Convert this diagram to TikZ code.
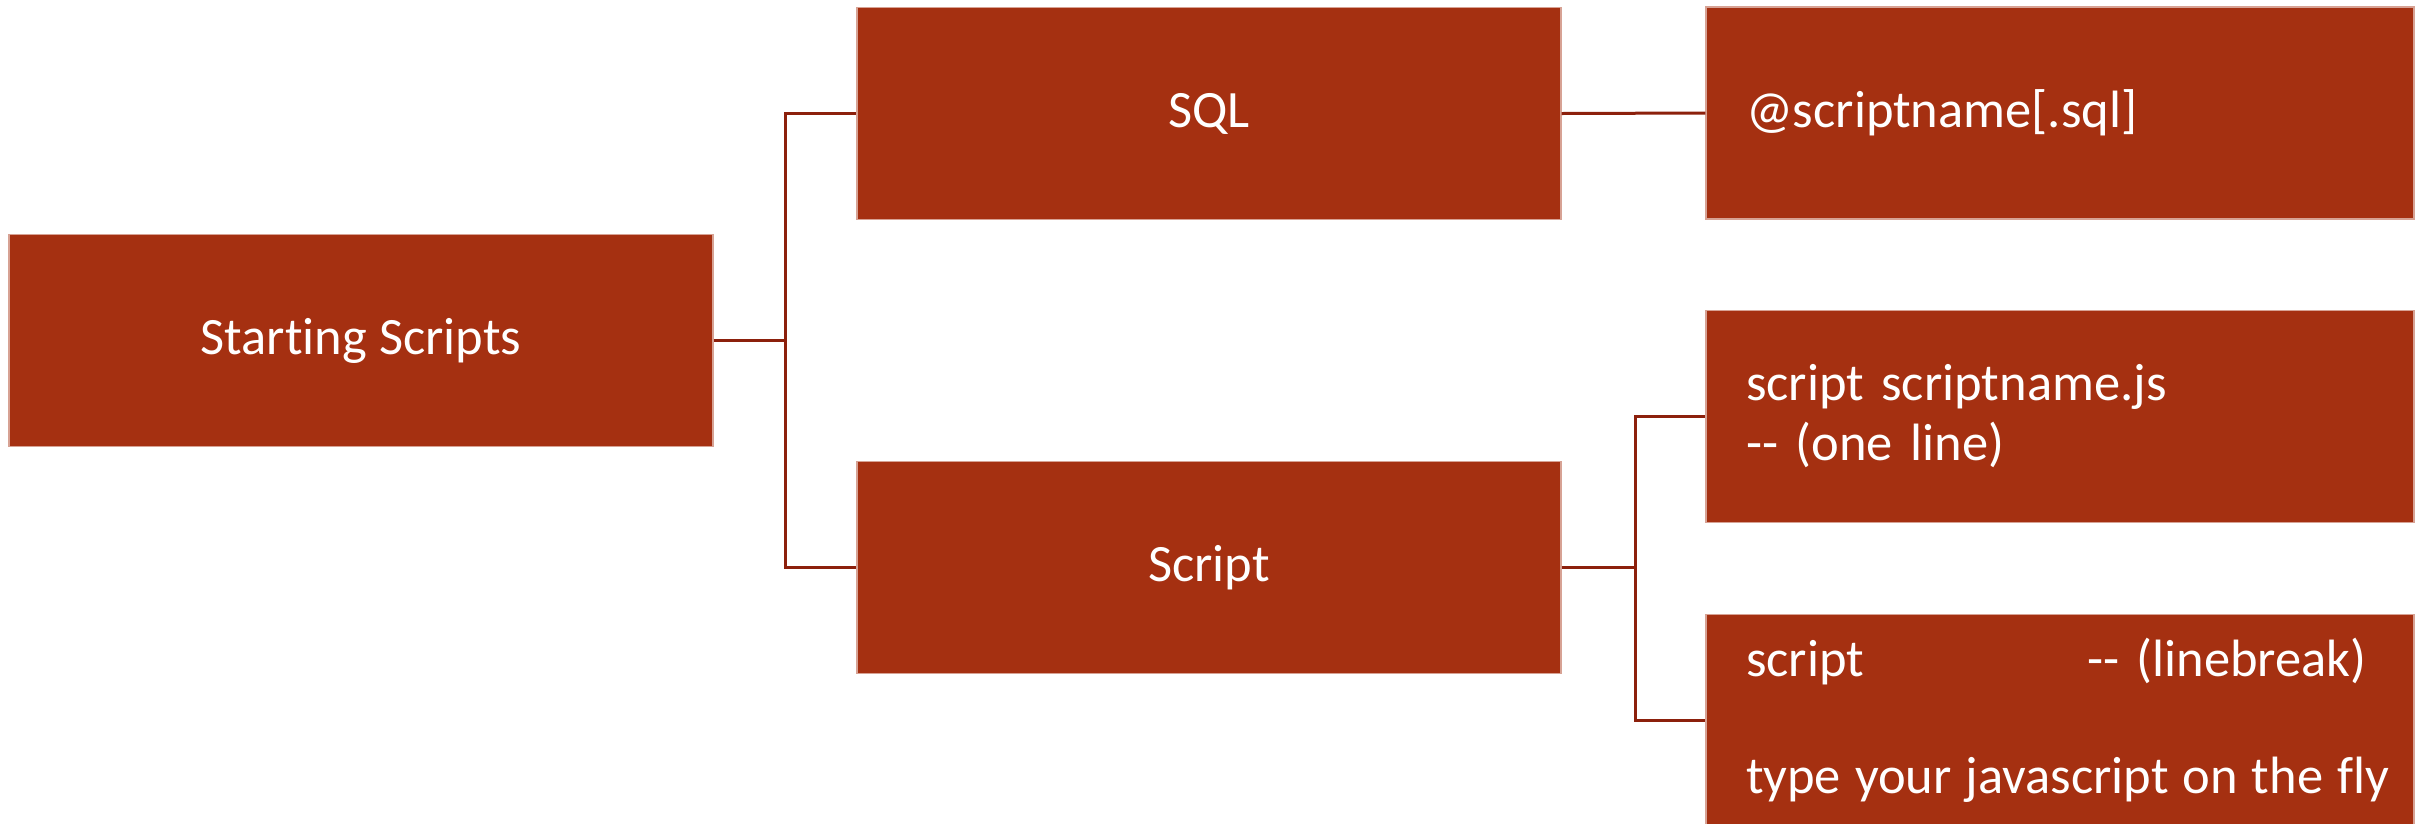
\documentclass[tikz,border=0pt]{standalone}
\usepackage{fontspec}
\setmainfont{Carlito}[Ligatures={NoCommon}]
\definecolor{boxred}{RGB}{165,48,17}
\definecolor{connred}{RGB}{140,32,12}
\tikzset{
  box/.style={rectangle, fill=boxred, draw=white!55!boxred, line width=1.2pt,
    minimum width=704pt, minimum height=212pt, inner sep=0pt, text=white,
    font=\fontsize{52.5}{60}\selectfont},
  leftbox/.style={box, minimum width=708pt, text width=628pt, align=left},
  conn/.style={draw=connred, line width=3pt}
}
\begin{document}
\begin{tikzpicture}[x=1pt,y=-1pt]
\useasboundingbox (0,0) rectangle (2420,823);
\fill[white] (0,0) rectangle (2420,823);
\node[box] (start) at (361,340.5) {Starting Scripts};
\node[box] (sql) at (1209,113.5) {SQL};
\node[box] (scr) at (1209,567.5) {Script};
\node[leftbox] (at) at (2060,113) {@scriptname[.sql]};
\node[leftbox] (js) at (2060,416.5) {\mbox{script scriptname.js}\\\mbox{-{}- (one line)}};
\node[leftbox] (lb) at (2060,720.5) {\mbox{\makebox[341pt][l]{script}-{}- (linebreak)}\\[57pt]\mbox{\spaceskip=14pt type your javascript on the fly}};
\coordinate (j1) at (785,340.5);
\coordinate (j2) at (1635,567.5);
\draw[conn] (start.east) -- (j1);
\draw[conn] (j1) |- (sql.west);
\draw[conn] (j1) |- (scr.west);
\draw[conn] (sql.east) -- (at.west);
\draw[conn] (scr.east) -- (j2);
\draw[conn] (j2) |- (js.west);
\draw[conn] (j2) |- (lb.west);
\end{tikzpicture}
\end{document}
